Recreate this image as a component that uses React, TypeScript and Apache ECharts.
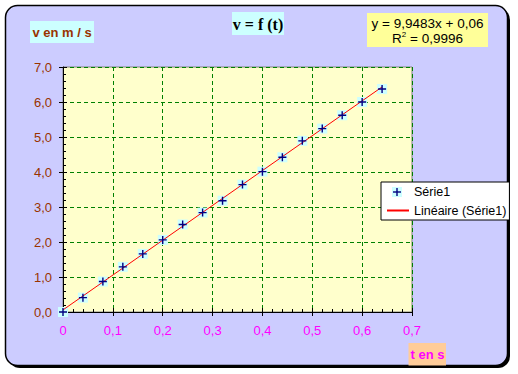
import React, { useEffect, useRef } from "react";
import * as echarts from "echarts";

const times = [0, 0.04, 0.08, 0.12, 0.16, 0.2, 0.24, 0.28, 0.32, 0.36, 0.4, 0.44, 0.48, 0.52, 0.56, 0.6, 0.64];
const speeds = [0, 0.41, 0.87, 1.29, 1.66, 2.06, 2.5, 2.84, 3.18, 3.64, 4.01, 4.42, 4.89, 5.24, 5.62, 6.0, 6.37];
const trendTimes = [0, 0.64];
const trendSpeeds = [0.06, 6.43];
const seriesName = "Série1";
const trendName = "Linéaire (Série1)";
const equationText = "y = 9,9483x + 0,06";
const r2Value = "0,9996";

const FONT = "Liberation Sans, Arial, sans-serif";
const PLUS = "path://M3.3,0h1.4v3.3h3.3v1.4h-3.3v3.3h-1.4v-3.3h-3.3v-1.4h3.3z";

export default function App() {
  const ref = useRef<HTMLDivElement>(null);
  useEffect(() => {
    if (!ref.current) return;
    const chart = echarts.init(ref.current, null, { renderer: "svg" });
    const points = times.map((t, i) => [t, speeds[i]]);
    const trend = trendTimes.map((t, i) => [t, trendSpeeds[i]]);
    const fmtY = (v: number) => v.toFixed(1).replace(".", ",");
    const fmtX = (v: number) => (v === 0 ? "0" : v.toFixed(1).replace(".", ","));
    chart.setOption({
      animation: false,
      grid: {
        left: 63,
        top: 67,
        right: 106,
        bottom: 62,
        show: true,
        backgroundColor: "#FFFFCC",
        borderColor: "#808080",
        borderWidth: 1,
      },
      xAxis: [
        {
          type: "value",
          min: 0,
          max: 0.7,
          interval: 0.1,
          position: "bottom",
          axisLine: { show: true, onZero: false, lineStyle: { color: "#000", width: 1 } },
          axisTick: { show: true, inside: false, length: 4, lineStyle: { color: "#000" } },
          axisLabel: { color: "#FF00FF", fontSize: 13, fontFamily: FONT, margin: 12, formatter: fmtX },
          splitLine: { show: true, lineStyle: { color: "#008000", type: [4, 3], width: 1 } },
        },
        {
          type: "value",
          min: 0,
          max: 0.7,
          interval: 0.1,
          position: "bottom",
          axisLine: { show: false, onZero: false },
          axisTick: { show: true, inside: true, length: 4, lineStyle: { color: "#000" } },
          minorTick: { show: true, splitNumber: 5, length: 3, lineStyle: { color: "#000" } },
          axisLabel: { show: false },
          splitLine: { show: false },
        },
      ],
      yAxis: [
        {
          type: "value",
          min: 0,
          max: 7,
          interval: 1,
          position: "left",
          axisLine: { show: true, onZero: false, lineStyle: { color: "#000", width: 1 } },
          axisTick: { show: true, inside: false, length: 4, lineStyle: { color: "#000" } },
          axisLabel: { color: "#993300", fontSize: 13, fontFamily: FONT, margin: 11, formatter: fmtY },
          splitLine: { show: true, lineStyle: { color: "#008000", type: [4, 3], width: 1 } },
        },
        {
          type: "value",
          min: 0,
          max: 7,
          interval: 1,
          position: "left",
          axisLine: { show: false, onZero: false },
          axisTick: { show: true, inside: true, length: 4, lineStyle: { color: "#000" } },
          minorTick: { show: true, splitNumber: 5, length: 3, lineStyle: { color: "#000" } },
          axisLabel: { show: false },
          splitLine: { show: false },
        },
      ],
      legend: {
        left: 381,
        top: 182,
        orient: "vertical",
        align: "left",
        padding: [3, 3, 3, 5],
        itemGap: 6,
        itemWidth: 22,
        itemHeight: 10,
        backgroundColor: "#FFFFFF",
        borderColor: "#000",
        borderWidth: 1,
        borderRadius: 0,
        textStyle: { color: "#000", fontSize: 12.5, fontFamily: FONT },
        data: [
          { name: seriesName, itemStyle: { opacity: 0 } },
          { name: trendName, itemStyle: { opacity: 0 } },
        ],
        z: 10,
      },
      series: [
        {
          name: seriesName,
          type: "custom",
          xAxisIndex: 0,
          yAxisIndex: 0,
          data: points,
          itemStyle: { color: "#CCFFFF" },
          z: 2,
          renderItem: (params: any, api: any) => {
            const p = api.coord([api.value(0), api.value(1)]);
            return {
              type: "rect",
              shape: { x: p[0] - 5, y: p[1] - 5, width: 10, height: 10 },
              style: { fill: "#CCFFFF" },
            };
          },
        },
        {
          name: trendName,
          type: "line",
          xAxisIndex: 0,
          yAxisIndex: 0,
          data: trend,
          showSymbol: false,
          symbol: "none",
          lineStyle: { color: "#FF0000", width: 1 },
          itemStyle: { color: "#FF0000" },
          z: 3,
        },
        {
          name: "plus",
          type: "scatter",
          xAxisIndex: 0,
          yAxisIndex: 0,
          data: points,
          symbol: PLUS,
          symbolSize: 8,
          itemStyle: { color: "#000080", opacity: 1 },
          z: 4,
        },
      ],
      graphic: [
        {
          type: "rect",
          z: -100,
          silent: true,
          shape: { x: 8, y: 8, width: 502, height: 360, r: 12 },
          style: { fill: "#000000" },
        },
        {
          type: "rect",
          z: -99,
          silent: true,
          shape: { x: 5.5, y: 5.5, width: 502, height: 360, r: 12 },
          style: { fill: "#CCCCFF", stroke: "#000000", lineWidth: 1.5 },
        },
        {
          type: "rect",
          z: 50,
          shape: { x: 30, y: 21, width: 64, height: 22 },
          style: { fill: "#CCFFFF" },
        },
        {
          type: "text",
          z: 51,
          x: 62,
          y: 32,
          style: {
            text: "v en m / s",
            fill: "#993300",
            font: "bold 13px " + FONT,
            align: "center",
            verticalAlign: "middle",
          },
        },
        {
          type: "rect",
          z: 50,
          shape: { x: 232, y: 12, width: 52, height: 23 },
          style: { fill: "#CCFFFF" },
        },
        {
          type: "text",
          z: 51,
          x: 258,
          y: 24,
          style: {
            text: "v = f (t)",
            fill: "#000000",
            font: "bold 16px Liberation Serif, Times New Roman, serif",
            align: "center",
            verticalAlign: "middle",
          },
        },
        {
          type: "rect",
          z: 50,
          shape: { x: 367, y: 13, width: 121, height: 34 },
          style: { fill: "#FFFF99" },
        },
        {
          type: "text",
          z: 51,
          x: 427.5,
          y: 23.5,
          style: {
            text: equationText,
            fill: "#000000",
            font: "13.5px " + FONT,
            align: "center",
            verticalAlign: "middle",
          },
        },
        {
          type: "text",
          z: 51,
          x: 427.5,
          y: 38.5,
          style: {
            text: "{a|R}{s|2}{a| = " + r2Value + "}",
            align: "center",
            verticalAlign: "middle",
            rich: {
              a: { fill: "#000000", fontSize: 13.5, fontFamily: FONT },
              s: { fill: "#000000", fontSize: 8, fontFamily: FONT, verticalAlign: "top", padding: [0, 0, 8, 0] },
            },
          },
        },
        {
          type: "rect",
          z: 50,
          shape: { x: 408.5, y: 343, width: 37.5, height: 22.5 },
          style: { fill: "#FFCC99" },
        },
        {
          type: "text",
          z: 51,
          x: 427.5,
          y: 354,
          style: {
            text: "t en s",
            fill: "#FF00FF",
            font: "bold 13px " + FONT,
            align: "center",
            verticalAlign: "middle",
          },
        },
        {
          type: "rect",
          z: 59,
          silent: true,
          shape: { x: 392, y: 187, width: 10, height: 10 },
          style: { fill: "#CCFFFF" },
        },
        {
          type: "line",
          z: 60,
          silent: true,
          shape: { x1: 393, y1: 192, x2: 401, y2: 192 },
          style: { stroke: "#000080", lineWidth: 1.4 },
        },
        {
          type: "line",
          z: 60,
          silent: true,
          shape: { x1: 397, y1: 188, x2: 397, y2: 196 },
          style: { stroke: "#000080", lineWidth: 1.4 },
        },
      ],
    });
    return () => chart.dispose();
  }, []);
  return (
    <div
      ref={ref}
      style={{ position: "absolute", left: 0, top: 0, width: 518, height: 374 }}
    />
  );
}
